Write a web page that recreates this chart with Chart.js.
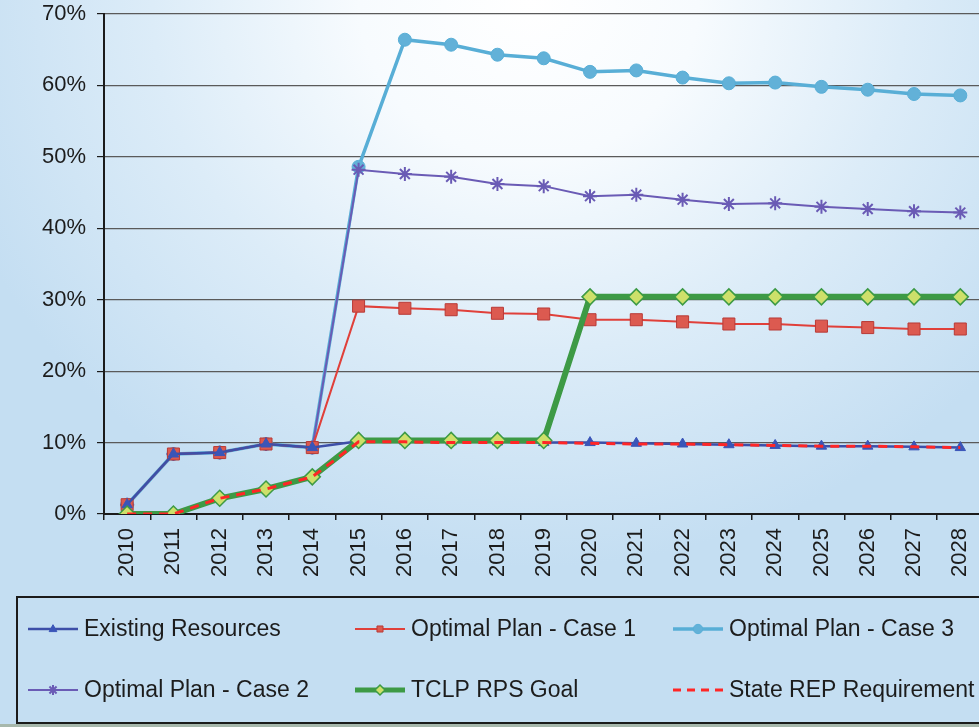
<!DOCTYPE html>
<html>
<head>
<meta charset="utf-8">
<script src="https://cdn.jsdelivr.net/npm/chart.js@4/dist/chart.umd.min.js"></script>
<style>
  html, body { margin: 0; padding: 0; width: 979px; height: 727px; overflow: hidden; }
  body {
    background:
      radial-gradient(ellipse 62% 78% at 54% 0%, #ffffff 0%, #f7fbfe 28%, #dcecf8 62%, #c4def2 100%);
  }
  #wrap { position: absolute; left: 0; top: 0; width: 995px; height: 727px; }
  canvas { display: block; }
</style>
</head>
<body>
<div id="wrap"><canvas id="chart" width="995" height="727"></canvas></div>
<script>
// Renewable share of energy, 2010-2028 (percent)
const years = ['2010','2011','2012','2013','2014','2015','2016','2017','2018','2019',
               '2020','2021','2022','2023','2024','2025','2026','2027','2028'];

const existingResources = [1.3, 8.4, 8.6, 9.8, 9.3, 10.2, 10.2, 10.1, 10.1, 10.0,
                           10.0, 9.9, 9.8, 9.7, 9.6, 9.5, 9.5, 9.4, 9.3];
const optimalCase1 = [1.3, 8.4, 8.6, 9.8, 9.3, 29.1, 28.8, 28.6, 28.1, 28.0,
                      27.2, 27.2, 26.9, 26.6, 26.6, 26.3, 26.1, 25.9, 25.9];
const optimalCase3 = [1.3, 8.4, 8.6, 9.8, 9.3, 48.6, 66.4, 65.7, 64.3, 63.8,
                      61.9, 62.1, 61.1, 60.3, 60.4, 59.8, 59.4, 58.8, 58.6];
const optimalCase2 = [1.3, 8.4, 8.6, 9.8, 9.3, 48.2, 47.6, 47.2, 46.2, 45.9,
                      44.5, 44.7, 44.0, 43.4, 43.5, 43.0, 42.7, 42.4, 42.2];
const tclpRpsGoal = [0, 0, 2.2, 3.5, 5.2, 10.3, 10.3, 10.3, 10.3, 10.3,
                     30.4, 30.4, 30.4, 30.4, 30.4, 30.4, 30.4, 30.4, 30.4];
const stateRepRequirement = [0, 0, 2.2, 3.5, 5.2, 10.1, 10.1, 10.0, 10.0, 10.0,
                             9.9, 9.8, 9.8, 9.7, 9.6, 9.5, 9.5, 9.4, 9.3];

const yTicks = [0, 10, 20, 30, 40, 50, 60, 70];

const FONT = '"Liberation Sans", Arial, sans-serif';

const datasets = [
  { label: 'Existing Resources', data: existingResources, order: 2,
    borderColor: '#3d4fa8', borderWidth: 2.5,
    pointStyle: 'triangle', pointRadius: 6, pointBackgroundColor: '#3a55b8', pointBorderColor: '#3a55b8', pointBorderWidth: 1 },
  { label: 'Optimal Plan - Case 1', data: optimalCase1, order: 3,
    borderColor: '#e0403a', borderWidth: 2,
    pointStyle: 'rect', pointRadius: 8.5, pointBackgroundColor: '#dc5a50', pointBorderColor: '#b83a36', pointBorderWidth: 1 },
  { label: 'Optimal Plan - Case 3', data: optimalCase3, order: 5,
    borderColor: '#58aed6', borderWidth: 3.5,
    pointStyle: 'circle', pointRadius: 6.5, pointBackgroundColor: '#62b1d8', pointBorderColor: '#58aed6', pointBorderWidth: 1 },
  { label: 'Optimal Plan - Case 2', data: optimalCase2, order: 4,
    borderColor: '#6a5bb5', borderWidth: 2,
    pointStyle: 'star', pointRadius: 7, pointBackgroundColor: '#6a5bb5', pointBorderColor: '#6a5bb5', pointBorderWidth: 2 },
  { label: 'TCLP RPS Goal', data: tclpRpsGoal, order: 1,
    borderColor: '#3d9a45', borderWidth: 6,
    pointStyle: 'rectRot', pointRadius: 8, pointBackgroundColor: '#cde06a', pointBorderColor: '#3d9a45', pointBorderWidth: 1.5 },
  { label: 'State REP Requirement', data: stateRepRequirement, order: 0,
    borderColor: '#ff2626', borderWidth: 3, borderDash: [9, 7],
    pointRadius: 0 }
];
datasets.forEach(d => { d.tension = 0; d.fill = false; d.pointHoverRadius = d.pointRadius; });

// Legend layout: two rows of three entries inside a framed box
const legendRows = [
  ['Existing Resources', 'Optimal Plan - Case 1', 'Optimal Plan - Case 3'],
  ['Optimal Plan - Case 2', 'TCLP RPS Goal', 'State REP Requirement']
];
const legendCols = [28, 355, 673];
const legendRowY = [629, 690];

function drawMarker(ctx, style, r, x, y, fill, stroke, lw) {
  ctx.save();
  ctx.fillStyle = fill; ctx.strokeStyle = stroke; ctx.lineWidth = lw;
  ctx.setLineDash([]);
  ctx.beginPath();
  if (style === 'triangle') {
    ctx.moveTo(x, y - r); ctx.lineTo(x + r * 0.9, y + r * 0.6); ctx.lineTo(x - r * 0.9, y + r * 0.6); ctx.closePath();
    ctx.fill(); ctx.stroke();
  } else if (style === 'rect') {
    ctx.rect(x - r * 0.6, y - r * 0.6, r * 1.2, r * 1.2); ctx.fill(); ctx.stroke();
  } else if (style === 'circle') {
    ctx.arc(x, y, r, 0, Math.PI * 2); ctx.fill(); ctx.stroke();
  } else if (style === 'rectRot') {
    ctx.moveTo(x, y - r); ctx.lineTo(x + r, y); ctx.lineTo(x, y + r); ctx.lineTo(x - r, y); ctx.closePath();
    ctx.fill(); ctx.stroke();
  } else if (style === 'star') {
    for (let k = 0; k < 4; k++) {
      const a = k * Math.PI / 4;
      ctx.moveTo(x - Math.cos(a) * r, y - Math.sin(a) * r);
      ctx.lineTo(x + Math.cos(a) * r, y + Math.sin(a) * r);
    }
    ctx.stroke();
  }
  ctx.restore();
}

const boxLegend = {
  id: 'boxLegend',
  afterDraw(chart) {
    const ctx = chart.ctx;
    ctx.save();
    // strip below the frame
    ctx.fillStyle = '#a7b8ac';
    ctx.fillRect(0, 724, chart.width, 3);
    // frame
    ctx.strokeStyle = '#1b1b1b';
    ctx.lineWidth = 2;
    ctx.strokeRect(17, 597, chart.width, 126);

    ctx.font = '23px ' + FONT;
    ctx.textBaseline = 'middle';
    ctx.textAlign = 'left';
    legendRows.forEach((row, ri) => {
      row.forEach((label, ci) => {
        const ds = chart.data.datasets.find(d => d.label === label);
        const x0 = legendCols[ci], x1 = x0 + 50, y = legendRowY[ri];
        ctx.save();
        ctx.strokeStyle = ds.borderColor;
        ctx.lineWidth = Math.min(ds.borderWidth, 5);
        ctx.setLineDash(ds.borderDash ? [8, 6] : []);
        ctx.beginPath(); ctx.moveTo(x0, y); ctx.lineTo(x1, y); ctx.stroke();
        ctx.restore();
        if (ds.pointRadius > 0) {
          drawMarker(ctx, ds.pointStyle, Math.min(ds.pointRadius, 7) * 0.72, (x0 + x1) / 2, y,
                     ds.pointBackgroundColor, ds.pointBorderColor, ds.pointBorderWidth);
        }
        ctx.fillStyle = '#1c1c1c';
        ctx.fillText(label, x1 + 6, y + 1);
      });
    });
    ctx.restore();
  }
};

new Chart(document.getElementById('chart'), {
  type: 'line',
  data: { labels: years, datasets },
  options: {
    responsive: false,
    animation: false,
    devicePixelRatio: 1,
    layout: { padding: { top: 14, right: 11, bottom: 130, left: 0 } },
    plugins: { legend: { display: false }, tooltip: { enabled: false } },
    scales: {
      x: {
        type: 'category',
        offset: true,
        grid: { offset: true, drawOnChartArea: false, drawTicks: true, tickLength: 6, color: '#1b1b1b', lineWidth: 1.5 },
        border: { display: true, color: '#1b1b1b', width: 2 },
        ticks: { minRotation: 90, maxRotation: 90, autoSkip: false, padding: 8,
                 color: '#1c1c1c', font: { family: FONT, size: 22 } },
        afterFit(scale) { scale.height = 83; }
      },
      y: {
        min: 0, max: 70,
        afterBuildTicks(scale) { scale.ticks = yTicks.map(v => ({ value: v })); },
        grid: { color: '#5a5a5a', lineWidth: 1.2, drawTicks: true, tickLength: 7, tickColor: '#1b1b1b' },
        border: { display: true, color: '#1b1b1b', width: 2 },
        ticks: { padding: 11, color: '#1c1c1c', font: { family: FONT, size: 22 },
                 callback: v => v + '%' },
        afterFit(scale) {
          scale.width = 104;
          scale.paddingTop = 0;
          scale.paddingBottom = 0;
        }
      }
    }
  },
  plugins: [boxLegend]
});
</script>
</body>
</html>
